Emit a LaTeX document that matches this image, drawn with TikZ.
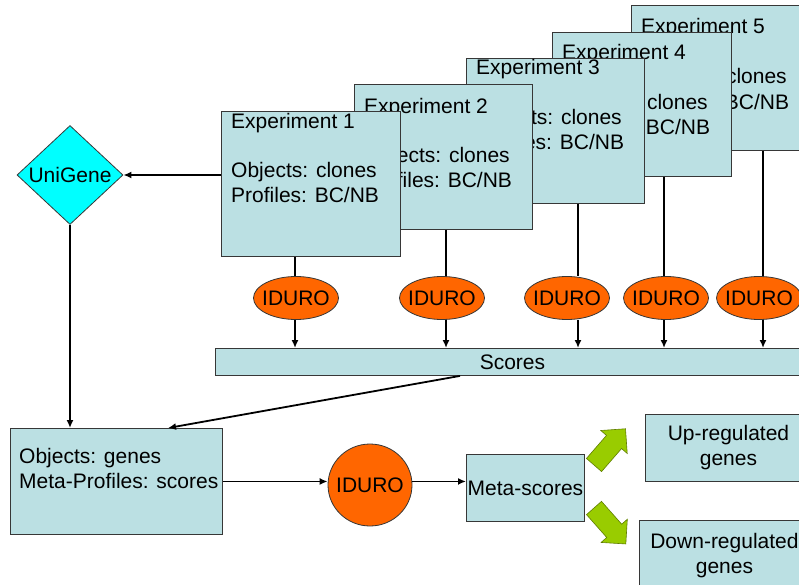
\documentclass[tikz,border=0pt]{standalone}
\usepackage{fontspec}
\setmainfont{Liberation Sans}
\usetikzlibrary{shapes.geometric,arrows.meta}
\definecolor{boxfill}{RGB}{187,224,227}
\definecolor{boxline}{RGB}{55,55,55}
\definecolor{iduro}{RGB}{255,102,0}
\definecolor{unigene}{RGB}{0,255,255}
\definecolor{leaf}{RGB}{153,204,0}
\definecolor{leafline}{RGB}{95,125,0}

\begin{document}
\begin{tikzpicture}[x=1pt,y=-1pt,
  every node/.style={font=\fontsize{21}{25}\selectfont, inner sep=0pt},
  panel/.style={rectangle, draw=boxline, line width=0.9pt, fill=boxfill, anchor=north west},
  tag/.style={anchor=base west},
  method/.style={ellipse, draw=boxline, fill=iduro, line width=0.8pt},
  link/.style={line width=1.8pt},
  flow/.style={link, -{Latex[length=8pt,width=7pt]}},
  bigarrow/.style={draw=leafline, fill=leaf, line width=0.6pt, line join=miter}]

\useasboundingbox (0,0) rectangle (799,585);
\fill[white] (0,0) rectangle (799,585);
\clip (0,0) rectangle (799,585);

% experiment cards, from the back to the front
\node[panel, minimum width=179pt, minimum height=145pt] (e5) at (631,5) {};
\node[tag] (e5a) at (641,33.5) {Experiment 5};
\node[tag] (e5b) at (641,84) {Objects: clones};
\node[tag] (e5c) at (641,109.5) {Profiles: BC/NB};

\node[panel, minimum width=179pt, minimum height=144pt] (e4) at (552,32) {};
\node[tag] (e4a) at (562,59.5) {Experiment 4};
\node[tag] (e4b) at (562,110) {Objects: clones};
\node[tag] (e4c) at (562,135) {Profiles: BC/NB};

\node[panel, minimum width=178pt, minimum height=145pt] (e3) at (466,58) {};
\node[tag] (e3a) at (476,74.5) {Experiment 3};
\node[tag] (e3b) at (476,124.5) {Objects: clones};
\node[tag] (e3c) at (476,150) {Profiles: BC/NB};

\node[panel, minimum width=178pt, minimum height=145pt] (e2) at (354,84) {};
\node[tag] (e2a) at (364,113.5) {Experiment 2};
\node[tag] (e2b) at (364,163) {Objects: clones};
\node[tag] (e2c) at (364,188) {Profiles: BC/NB};

\node[panel, minimum width=179pt, minimum height=145pt] (e1) at (221,111) {};
\node[tag] (e1a) at (231,129) {Experiment 1};
\node[tag] (e1b) at (231,178) {Objects: clones};
\node[tag] (e1c) at (231,203) {Profiles: BC/NB};

% per-experiment IDURO runs
\node[method, minimum width=85pt, minimum height=43pt, label=center:IDURO] (i1) at (296,298) {};
\node[method, minimum width=85pt, minimum height=43pt, label=center:IDURO] (i2) at (442,298) {};
\node[method, minimum width=85pt, minimum height=43pt, label=center:IDURO] (i3) at (567,298) {};
\node[method, minimum width=85pt, minimum height=43pt, label=center:IDURO] (i4) at (666,298) {};
\node[method, minimum width=85pt, minimum height=43pt, label=center:IDURO] (i5) at (759,298) {};

\node[panel, minimum width=594pt, minimum height=27pt] (scores) at (215,348) {Scores};

\node[diamond, draw=boxline, line width=0.8pt, fill=unigene, minimum width=106pt, minimum height=99pt, label=center:UniGene] (unigene) at (70,175) {};

% meta-analysis row
\node[panel, minimum width=212pt, minimum height=106pt] (genes) at (10,428) {};
\node[tag] (genesa) at (19,463) {Objects: genes};
\node[tag] (genesb) at (19,488) {Meta-Profiles: scores};

\node[method, minimum width=84pt, minimum height=82pt, label=center:IDURO] (metairo) at (370,485) {};

\node[panel, minimum width=118pt, minimum height=67pt] (meta) at (466,454) {Meta-scores};
\node[panel, minimum width=166pt, minimum height=67pt, align=center] (up) at (645,414) {Up-regulated\\genes};
\node[panel, minimum width=170pt, minimum height=70pt, align=center] (down) at (639,520) {Down-regulated\\genes};

% connector columns
\coordinate (c1) at (295,0);
\coordinate (c2) at (446,0);
\coordinate (c3) at (578,0);
\coordinate (c4) at (664,0);
\coordinate (c5) at (763,0);
\coordinate (sx) at (460,0);
\coordinate (gx) at (168,0);

\foreach \k in {1,...,5}{
  \draw[link] (e\k.south -| c\k) -- (i\k.north -| c\k);
  \draw[flow] (i\k.south -| c\k) -- (scores.north -| c\k);
}

\draw[flow] (e1.west |- unigene.east) -- (unigene.east);
\draw[flow] (unigene.south) -- (genes.north -| unigene.south);
\draw[flow] (scores.south -| sx) -- (genes.north -| gx);
\draw[flow] (genes.east) -- (metairo.west |- genes.east);
\draw[flow] (metairo.east |- genes.east) -- (meta.west |- genes.east);

% block arrows towards the regulated gene lists
\begin{scope}[shift={(594,465)}, rotate=49]
  \draw[bigarrow] (0,-10) -- (30.5,-10) -- (30.5,-17.5) -- (48,0) -- (30.5,17.5) -- (30.5,10) -- (0,10) -- cycle;
\end{scope}
\begin{scope}[shift={(594,508)}, rotate=-48.5]
  \draw[bigarrow] (0,-10) -- (30.5,-10) -- (30.5,-17.5) -- (48,0) -- (30.5,17.5) -- (30.5,10) -- (0,10) -- cycle;
\end{scope}
\end{tikzpicture}
\end{document}
